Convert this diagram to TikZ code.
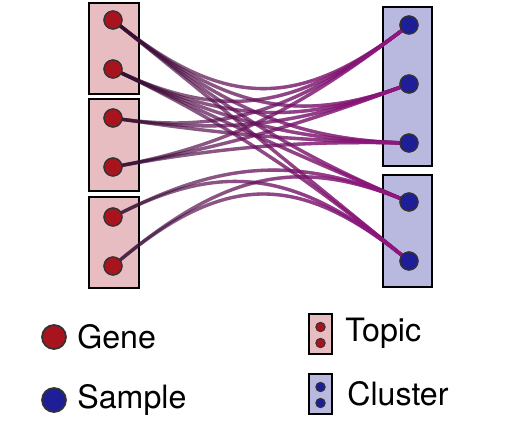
\documentclass[tikz,border=0pt]{standalone}
\usepackage{fontspec}
\setmainfont{TeX Gyre Heros}
\usepackage{xcolor}
\usepackage{tikz}
\usetikzlibrary{calc,fadings}

\definecolor{genered}{HTML}{A8141E}
\definecolor{sampleblue}{HTML}{1E1E96}
\definecolor{topicpink}{HTML}{E8BDC2}
\definecolor{clusterblue}{HTML}{B9B9E0}
\definecolor{linkdark}{HTML}{2C0F2A}
\definecolor{linkmag}{HTML}{A3178F}

\tikzset{
	gene/.style={circle,draw=black!80,fill=genered,line width=0.7pt,minimum size=0.36cm,inner sep=0pt},
	sample/.style={circle,draw=black!80,fill=sampleblue,line width=0.7pt,minimum size=0.36cm,inner sep=0pt},
	topicbox/.style={draw=black,fill=topicpink,line width=1.3pt},
	clusterbox/.style={draw=black,fill=clusterblue,line width=1.3pt},
	linkbase/.style={linkdark,line width=1.9pt,opacity=0.6},
	linktop/.style={linkmag,line width=1.9pt,opacity=0.85,path fading=west},
	legend/.style={anchor=west,inner sep=0pt,font=\fontsize{18.3}{21}\selectfont}
}

\begin{document}
\begin{tikzpicture}[x=0.02cm,y=-0.02cm]
	\useasboundingbox (0,0) rectangle (520,420);
	\draw[topicbox] (89,3) rectangle (139,94);
	\draw[topicbox] (89,99) rectangle (139,191);
	\draw[topicbox] (89,197) rectangle (139,288);
	\draw[clusterbox] (383,7) rectangle (432,166);
	\draw[clusterbox] (383,175) rectangle (432,287);
	%
	\coordinate (mid) at (261,140);
	\node[gene] (g1) at (113,20) {};
	\node[gene] (g2) at (113,69) {};
	\node[gene] (g3) at (113,118) {};
	\node[gene] (g4) at (113,167) {};
	\node[gene] (g5) at (113,217) {};
	\node[gene] (g6) at (113,266) {};
	\node[sample] (s1) at (409,25) {};
	\node[sample] (s2) at (409,84) {};
	\node[sample] (s3) at (409,143) {};
	\node[sample] (s4) at (409,202) {};
	\node[sample] (s5) at (409,261) {};
	%
	\foreach \g/\s in {g1/s1,g1/s2,g1/s3,g1/s4,g1/s5,g2/s1,g2/s2,g2/s3,g2/s4,g2/s5,
		g3/s1,g3/s2,g3/s3,g4/s1,g4/s2,g4/s3,g5/s4,g5/s5,g6/s4,g6/s5}{
		\draw[linkbase] (\g.center) .. controls ($(\g)!0.75!(mid)$) and ($(\s)!0.75!(mid)$) .. (\s.center);
		\draw[linktop] (\g.center) .. controls ($(\g)!0.75!(mid)$) and ($(\s)!0.75!(mid)$) .. (\s.center);
	}
	%
	\foreach \n in {g1,g2,g3,g4,g5,g6}{\node[gene] at (\n) {};}
	\foreach \n in {s1,s2,s3,s4,s5}{\node[sample] at (\n) {};}
	%
	\node[gene,minimum size=0.48cm,line width=1pt] (kg) at (54,337) {};
	\node[legend] (tg) at (77,337) {Gene};
	\node[sample,minimum size=0.48cm,line width=1pt] (ks) at (54,400) {};
	\node[legend] (ts) at (77,400) {Sample};
	%
	\draw[topicbox,line width=1pt] (309,314) rectangle (332,354);
	\node[gene,minimum size=0.19cm,line width=0.5pt] (kt1) at (320.5,327) {};
	\node[gene,minimum size=0.19cm,line width=0.5pt] (kt2) at (320.5,343) {};
	\node[legend] (tt) at (345,333) {Topic};
	\draw[clusterbox,line width=1pt] (309,374) rectangle (332,414);
	\node[sample,minimum size=0.19cm,line width=0.5pt] (kc1) at (320.5,387) {};
	\node[sample,minimum size=0.19cm,line width=0.5pt] (kc2) at (320.5,403) {};
	\node[legend] (tc) at (347,394) {Cluster};
\end{tikzpicture}
\end{document}
